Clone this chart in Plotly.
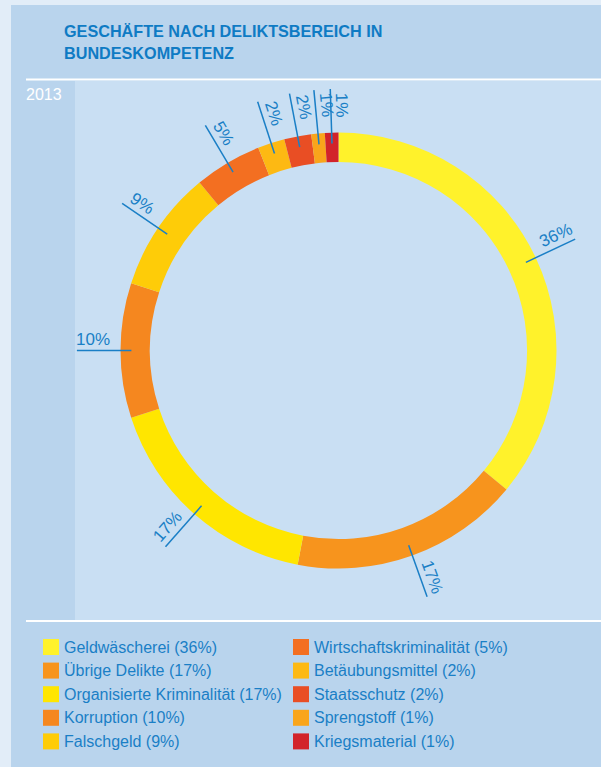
import math
import plotly.graph_objects as go

# ---------------- data ----------------
labels = [
    "Geldwäscherei", "Übrige Delikte", "Organisierte Kriminalität", "Korruption",
    "Falschgeld", "Wirtschaftskriminalität", "Betäubungsmittel", "Staatsschutz",
    "Sprengstoff", "Kriegsmaterial",
]
values = [36, 17, 17, 10, 9, 5, 2, 2, 1, 1]
colors = [
    "#fff22b", "#f7941d", "#ffe600", "#f5871f", "#fecc08",
    "#f36f21", "#fdb913", "#e94e24", "#f9a51b", "#d2232a",
]
title_lines = ["GESCHÄFTE NACH DELIKTSBEREICH IN", "BUNDESKOMPETENZ"]
year_label = "2013"

# ---------------- geometry / style ----------------
W, H = 601, 767
CX, CY, R = 338.5, 350.5, 218.0
HOLE = 0.865
BLUE = "#1a7fc6"
FONT = "Liberation Sans, Arial, sans-serif"


def px(x):
    return x / W


def py(y):
    return 1 - y / H


fig = go.Figure()

fig.add_trace(go.Pie(
    values=values, labels=labels,
    marker=dict(colors=colors, line=dict(width=0)),
    hole=HOLE, sort=False, direction="clockwise", rotation=0,
    textinfo="none", hoverinfo="label+percent",
    domain=dict(x=[px(CX - R), px(CX + R)], y=[py(CY + R), py(CY - R)]),
    showlegend=False,
))

# cartesian frame in units of the pie radius, centred on the pie
total = sum(values)
mid_angles = []
cum = 0
for v in values:
    mid_angles.append(360.0 * (cum + v / 2.0) / total)
    cum += v

r_in, r_out, r_txt, off = 0.95, 1.20, 1.125, 0.052
anchor_x, anchor_y = [], []
shapes = []
annotations = []
for v, th in zip(values, mid_angles):
    t = math.radians(th)
    ux, uy = math.sin(t), math.cos(t)
    shapes.append(dict(type="line", xref="x", yref="y", layer="above",
                       x0=r_in * ux, y0=r_in * uy, x1=r_out * ux, y1=r_out * uy,
                       line=dict(color=BLUE, width=1.5)))
    phi = th - 90 if th <= 180 else th - 270
    p = math.radians(phi)
    upx, upy = math.sin(p), math.cos(p)
    ax = r_txt * ux + off * upx
    ay = r_txt * uy + off * upy
    anchor_x.append(ax)
    anchor_y.append(ay)
    annotations.append(dict(x=ax, y=ay, xref="x", yref="y", text=f"{v}%",
                            textangle=phi, showarrow=False,
                            xanchor="center", yanchor="middle",
                            font=dict(family=FONT, size=17, color=BLUE)))

fig.add_trace(go.Scatter(x=anchor_x, y=anchor_y, mode="markers",
                         marker=dict(size=1, opacity=0), hoverinfo="skip",
                         showlegend=False))

# ---------------- panels ----------------
bg_shapes = [
    dict(type="rect", xref="paper", yref="paper", layer="below",
         x0=px(11), x1=px(W), y0=py(H), y1=py(5),
         fillcolor="#b9d4ed", line=dict(width=0)),
    dict(type="rect", xref="paper", yref="paper", layer="below",
         x0=px(75), x1=px(W), y0=py(620), y1=py(81),
         fillcolor="#c9dff3", line=dict(width=0)),
    dict(type="line", xref="paper", yref="paper", layer="below",
         x0=px(26), x1=px(W), y0=py(79.5), y1=py(79.5),
         line=dict(color="white", width=2)),
    dict(type="line", xref="paper", yref="paper", layer="below",
         x0=px(26), x1=px(W), y0=py(621), y1=py(621),
         line=dict(color="white", width=2)),
]

# title + year
for i, line in enumerate(title_lines):
    annotations.append(dict(x=px(62), y=py(31 + 22 * i), xref="paper", yref="paper",
                            text=line, showarrow=False,
                            xanchor="left", yanchor="middle",
                            font=dict(family=FONT, size=16.2, color="#0f7bc4",
                                      weight="bold")))
annotations.append(dict(x=px(24), y=py(94), xref="paper", yref="paper",
                        text=year_label, showarrow=False,
                        xanchor="left", yanchor="middle",
                        font=dict(family=FONT, size=16, color="white")))

# legend (two columns of five)
leg_shapes = []
for i, (lab, v, c) in enumerate(zip(labels, values, colors)):
    col, row = divmod(i, 5)
    sx = 43 if col == 0 else 293
    yc = 647 + row * 23.6
    leg_shapes.append(dict(type="rect", xref="paper", yref="paper",
                           x0=px(sx), x1=px(sx + 16), y0=py(yc + 8), y1=py(yc - 8),
                           fillcolor=c, line=dict(width=0)))
    annotations.append(dict(x=px(sx + 19), y=py(yc), xref="paper", yref="paper",
                            text=f"{lab} ({v}%)", showarrow=False,
                            xanchor="left", yanchor="middle",
                            font=dict(family=FONT, size=16, color=BLUE)))

fig.update_layout(
    width=W, height=H, autosize=False,
    margin=dict(l=0, r=0, t=0, b=0, pad=0),
    paper_bgcolor="#e2edf8", plot_bgcolor="rgba(0,0,0,0)",
    xaxis=dict(domain=[0, 1], range=[(0 - CX) / R, (W - CX) / R],
               visible=False, fixedrange=True),
    yaxis=dict(domain=[0, 1], range=[(CY - H) / R, CY / R],
               visible=False, fixedrange=True),
    shapes=bg_shapes + shapes + leg_shapes,
    annotations=annotations,
    showlegend=False,
)

fig.write_html(
    "out.html",
    config={"displayModeBar": False},
    post_script="document.body.style.margin='0';document.body.style.padding='0';"
                "document.body.style.overflow='hidden';",
)
